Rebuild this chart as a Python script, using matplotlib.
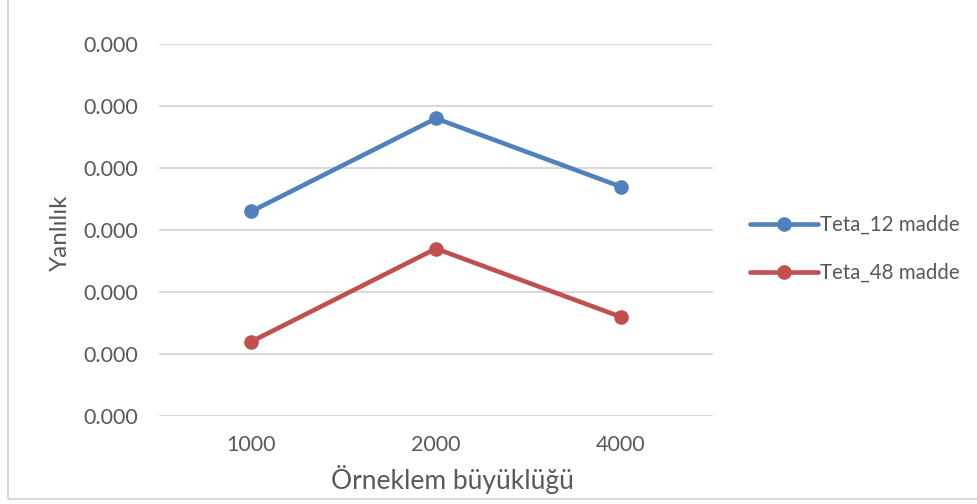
import matplotlib
matplotlib.use('Agg')
import matplotlib.pyplot as plt
from matplotlib.patches import Rectangle

# Dados
sample_sizes = ['1000', '2000', '4000']
teta_12 = [0.000165, 0.000240, 0.000185]
teta_48 = [0.000060, 0.000135, 0.000080]
y_ticks = [0.0, 0.00005, 0.0001, 0.00015, 0.0002, 0.00025, 0.0003]

COLOR_BLUE = '#4F81BD'
COLOR_RED = '#C0504D'
COLOR_TEXT = '#595959'
COLOR_GRID = '#D9D9D9'

plt.rcParams['font.family'] = ['Lato', 'DejaVu Sans']

fig = plt.figure(figsize=(9.78, 5.04), dpi=100)
W, H = 978, 504
ax = fig.add_axes([159 / W, 1 - 416 / H, (713 - 159) / W, (416 - 44) / H])

x = range(len(sample_sizes))
ax.plot(x, teta_12, color=COLOR_BLUE, linewidth=3.3, marker='o', markersize=9.5,
        label='Teta_12 madde', solid_capstyle='round', zorder=3)
ax.plot(x, teta_48, color=COLOR_RED, linewidth=3.3, marker='o', markersize=9.5,
        label='Teta_48 madde', solid_capstyle='round', zorder=3)

ax.set_xlim(-0.5, 2.5)
ax.set_ylim(0, 0.0003)
ax.set_yticks(y_ticks)
ax.set_yticklabels([f"{v:.3f}" for v in y_ticks])
ax.set_xticks(list(x))
ax.set_xticklabels(sample_sizes)

ax.grid(True, axis='y', color=COLOR_GRID, linewidth=1.5)
ax.set_axisbelow(True)
for side in ['top', 'right', 'left', 'bottom']:
    ax.spines[side].set_visible(False)
ax.tick_params(axis='both', length=0, labelsize=15.5, colors=COLOR_TEXT)
ax.tick_params(axis='y', pad=15)
ax.tick_params(axis='x', pad=14)

fig.text(452 / W, 1 - 479 / H, 'Örneklem büyüklüğü', ha='center', va='center',
         fontsize=19, color=COLOR_TEXT)
fig.text(60 / W, 1 - 233 / H, 'Yanlılık', ha='center', va='center', rotation=90,
         fontsize=17.5, color=COLOR_TEXT)

leg = fig.legend(loc='center left', bbox_to_anchor=(740 / W, 1 - 249 / H),
                 frameon=False, fontsize=14.8, handlelength=3.3, handletextpad=0.1,
                 labelspacing=1.35, borderpad=0)
for t in leg.get_texts():
    t.set_color(COLOR_TEXT)

# Borda da área do gráfico
fig.patches.append(Rectangle((8 / W, 1 - 499 / H), 1.2, 1.2, transform=fig.transFigure,
                             fill=False, edgecolor='#D9D9D9', linewidth=1.5))

fig.savefig('out.png', dpi=100, facecolor='white')
